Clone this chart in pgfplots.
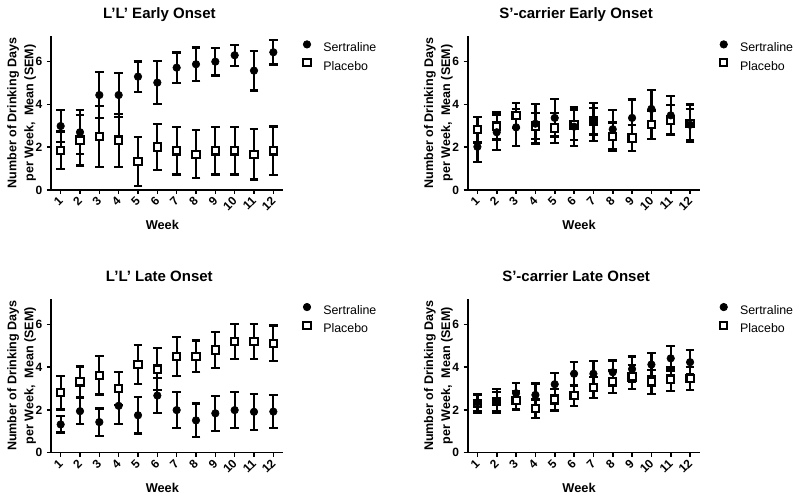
\documentclass[border=0pt]{standalone}
\usepackage{fontspec}
\setmainfont{Liberation Sans}
\usepackage{pgfplots}
\usepackage{pgfplotstable}
\pgfplotsset{compat=1.18}

\pgfplotstableread{
w m e
1 2.99 0.76
2 2.70 1.03
3 4.44 1.06
4 4.44 1.02
5 5.30 0.71
6 5.02 1.00
7 5.72 0.71
8 5.88 0.78
9 6.00 0.65
10 6.30 0.49
11 5.58 0.93
12 6.44 0.57
}\sA
\pgfplotstableread{
w m e
1 1.85 0.88
2 2.33 1.19
3 2.50 1.42
4 2.33 1.24
5 1.33 1.15
6 2.01 1.07
7 1.83 1.10
8 1.67 1.12
9 1.83 1.10
10 1.83 1.10
11 1.67 1.18
12 1.83 1.14
}\pA
\pgfplotstableread{
w m e
1 2.02 0.71
2 2.70 0.83
3 2.93 0.87
4 3.10 0.92
5 3.37 0.87
6 2.96 0.90
7 3.18 0.89
8 2.84 0.91
9 3.37 0.86
10 3.79 0.89
11 3.49 0.90
12 3.05 0.72
}\sB
\pgfplotstableread{
w m e
1 2.82 0.60
2 2.99 0.63
3 3.49 0.59
4 2.99 0.62
5 2.90 0.71
6 3.04 0.71
7 3.22 0.63
8 2.50 0.65
9 2.43 0.62
10 3.05 0.67
11 3.27 0.69
12 3.12 0.88
}\pB
\pgfplotstableread{
w m e
1 1.32 0.38
2 1.94 0.61
3 1.43 0.64
4 2.19 0.86
5 1.75 0.86
6 2.67 0.82
7 1.99 0.84
8 1.51 0.79
9 1.84 0.81
10 1.99 0.84
11 1.91 0.85
12 1.92 0.77
}\sC
\pgfplotstableread{
w m e
1 2.80 0.78
2 3.31 0.72
3 3.62 0.90
4 3.00 0.78
5 4.12 0.92
6 3.91 0.97
7 4.51 0.91
8 4.51 0.73
9 4.80 0.83
10 5.20 0.82
11 5.20 0.82
12 5.11 0.84
}\pC
\pgfplotstableread{
w m e
1 2.35 0.40
2 2.42 0.54
3 2.78 0.49
4 2.70 0.54
5 3.20 0.53
6 3.69 0.55
7 3.69 0.58
8 3.76 0.55
9 3.91 0.58
10 4.12 0.55
11 4.41 0.57
12 4.23 0.58
}\sD
\pgfplotstableread{
w m e
1 2.30 0.42
2 2.40 0.45
3 2.44 0.42
4 2.06 0.43
5 2.47 0.50
6 2.66 0.48
7 3.04 0.50
8 3.31 0.53
9 3.54 0.56
10 3.31 0.56
11 3.44 0.54
12 3.47 0.55
}\pD

\pgfplotsset{
  panel/.style={
    scale only axis, width=174pt, height=115.5pt,
    xmin=0.5, xmax=12.5, ymin=0, ymax=7.2,
    axis lines*=left,
    axis line style={line width=1.2pt, -, black},
    xtick={1,...,12}, ytick={0,2,4,6},
    tick align=outside, major tick length=3pt,
    tick style={line width=1.2pt, black},
    /pgf/number format/assume math mode=true,
    ticklabel style={font=\bfseries\fontsize{9}{10}\selectfont},
    xticklabel style={rotate=45, anchor=east, yshift=-2.5pt, xshift=1pt},
    xlabel={Week},
    xlabel style={font=\bfseries\fontsize{9.6}{11}\selectfont, at={(axis description cs:0.48,0)}, anchor=base, yshift=-29.7pt},
    ylabel={Number of Drinking Days\\per Week,\ \ Mean (SEM)},
    ylabel style={font=\bfseries\fontsize{9.4}{12.75}\selectfont, align=center, at={(axis description cs:0,0.5)}, anchor=center, yshift=22.1pt},
    title style={font=\bfseries\fontsize{11.25}{13}\selectfont, at={(axis description cs:0.467,1)}, anchor=base, yshift=7pt},
    clip=false,
    reverse legend,
    legend cell align=left,
    legend style={at={(axis description cs:1,1)}, anchor=north west, xshift=12.8pt, yshift=-3.5pt,
      draw=none, fill=none, inner sep=0pt, outer sep=0pt, row sep=3.2pt,
      font=\fontsize{9.3}{11}\selectfont,
      nodes={inner sep=0pt, text height=7pt, text depth=2pt}},
    legend image code/.code={\path (0pt,0pt) (17pt,0pt); \draw[##1] plot coordinates {(5pt,3.2pt)};},
  },
  sert/.style={only marks, mark=*, mark size=2.8pt, black, mark options={fill=black, line width=0.5pt},
    error bars/.cd, y dir=both, y explicit,
    error bar style={line width=1.7pt, black},
    error mark options={rotate=90, line width=1.7pt, mark size=3.3pt, black}},
  plac/.style={only marks, mark=square*, mark size=2.7pt, black, mark options={fill=white, line width=1.6pt},
    error bars/.cd, y dir=both, y explicit,
    error bar style={line width=1.7pt, black},
    error mark options={rotate=90, line width=1.7pt, mark size=3.3pt, black}},
}

\begin{document}
\begin{tikzpicture}
\path[use as bounding box] (0,0) rectangle (600pt,375pt);

\begin{axis}[panel, at={(38.25pt,232.5pt)}, anchor=south west, title={L'L' Early Onset}]
\addplot[plac] table[x=w, y=m, y error=e] {\pA};
\addlegendentry{Placebo}
\addplot[sert] table[x=w, y=m, y error=e] {\sA};
\addlegendentry{Sertraline}
\end{axis}

\begin{axis}[panel, at={(350.8pt,232.5pt)}, anchor=south west, title={S'-carrier Early Onset}]
\addplot[plac] table[x=w, y=m, y error=e] {\pB};
\addlegendentry{Placebo}
\addplot[sert] table[x=w, y=m, y error=e] {\sB};
\addlegendentry{Sertraline}
\end{axis}

\begin{axis}[panel, at={(38.25pt,35.5pt)}, anchor=south west, title={L'L' Late Onset}]
\addplot[plac] table[x=w, y=m, y error=e] {\pC};
\addlegendentry{Placebo}
\addplot[sert] table[x=w, y=m, y error=e] {\sC};
\addlegendentry{Sertraline}
\end{axis}

\begin{axis}[panel, at={(350.8pt,35.5pt)}, anchor=south west, title={S'-carrier Late Onset}]
\addplot[plac] table[x=w, y=m, y error=e] {\pD};
\addlegendentry{Placebo}
\addplot[sert] table[x=w, y=m, y error=e] {\sD};
\addlegendentry{Sertraline}
\end{axis}
\end{tikzpicture}
\end{document}
